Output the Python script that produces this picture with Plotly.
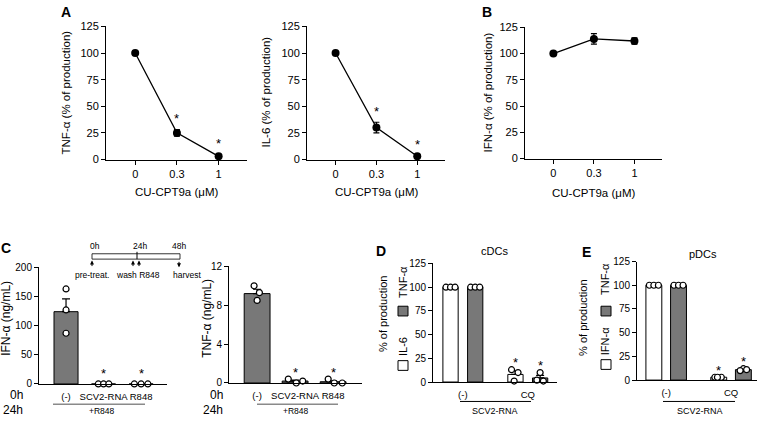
import plotly.graph_objects as go
import numpy as np

W, H = 762, 423

# ---------------- data ----------------
dose_labels = ["0", "0.3", "1"]
tnf_pct = [100, 25, 3]
tnf_pct_err = [0, 3, 1.5]
tnf_pct_sig = [False, True, True]
il6_pct = [100, 30, 3]
il6_pct_err = [0, 5, 1]
il6_pct_sig = [False, True, True]
ifn_pct = [100, 114, 112]
ifn_pct_err = [0, 5, 3]
ifn_pct_sig = [False, False, False]

c_groups = ["(-)", "SCV2-RNA", "R848"]
c_ifn_mean = [124, 0, 0]
c_ifn_sem = [22, 0, 0]
c_ifn_pts = [[163, 127, 87], [0, 0, 0], [0, 0, 0]]
c_ifn_sig = [False, True, True]
c_tnf_mean = [9.2, 0.2, 0.13]
c_tnf_sem = [0.45, 0.1, 0.1]
c_tnf_pts = [[10.0, 9.3, 8.5], [0.4, 0.0, 0.2], [0.4, 0.0, 0.0]]
c_tnf_sig = [False, True, True]

de_groups = ["(-)", "CQ"]
d_il6_mean = [100, 8]
d_il6_sem = [0, 3.8]
d_il6_pts = [[100, 100, 100], [13, 10, 1]]
d_tnf_mean = [100, 4.3]
d_tnf_sem = [0, 2.8]
d_tnf_pts = [[100, 100, 100], [10, 2, 1]]
d_sig = [False, True]
e_ifn_mean = [100, 3]
e_ifn_sem = [0, 0]
e_ifn_pts = [[100, 100, 100], [3, 3, 3]]
e_tnf_mean = [100, 11]
e_tnf_sem = [0, 0.6]
e_tnf_pts = [[100, 100, 100], [12, 10, 11]]
e_sig = [False, True]

# ---------------- style ----------------
FONT = "Arial, Liberation Sans, sans-serif"
GRAY = "#787878"
BLACK = "black"


def px(x):
    return x / W


def py(y):
    return 1 - y / H


fig = go.Figure()

# axis domains in pixels: (x0, x1), (ytop, ybottom)
dom = {
    1: ((106, 247), (21, 158)),
    2: ((307, 445), (21, 158)),
    3: ((525, 662), (22, 157)),
    4: ((39, 167), (269, 389)),
    5: ((229, 362), (268, 388)),
    6: ((433, 557), (265, 387)),
    7: ((637, 757), (263, 385)),
}


def axname(i, a):
    return f"{a}axis" if i == 1 else f"{a}axis{i}"


def ref(i, a):
    return a if i == 1 else f"{a}{i}"


layout_axes = {}


def set_axes(i, xrange, xtickvals, xticktext, yrange, ytickvals, tfs, xticks=True, xfs=11, xlen=4):
    (x0, x1), (yt, yb) = dom[i]
    layout_axes[axname(i, "x")] = dict(
        domain=[px(x0), px(x1)], range=xrange, anchor=ref(i, "y"),
        tickvals=xtickvals, ticktext=xticktext, tickangle=0,
        showline=True, linecolor=BLACK, linewidth=1,
        ticks="outside", ticklen=xlen,
        tickcolor=BLACK if xticks else "rgba(0,0,0,0)", tickwidth=1,
        showgrid=False, zeroline=False, fixedrange=True,
        tickfont=dict(family=FONT, size=xfs, color=BLACK),
    )
    layout_axes[axname(i, "y")] = dict(
        domain=[py(yb), py(yt)], range=yrange, anchor=ref(i, "x"),
        tickvals=ytickvals,
        showline=True, linecolor=BLACK, linewidth=1,
        ticks="outside", ticklen=4, tickcolor=BLACK, tickwidth=1,
        showgrid=False, zeroline=False, fixedrange=True,
        tickfont=dict(family=FONT, size=tfs, color=BLACK),
    )


pct_ticks = [0, 25, 50, 75, 100, 125]
for i in (1, 2, 3):
    set_axes(i, [-0.7, 2.68], [0, 1, 2], dose_labels, [0, 125], pct_ticks, 11)
set_axes(4, [-0.72, 2.69], [0, 1, 2], c_groups, [0, 200], [0, 50, 100, 150, 200], 10,
         xticks=False, xfs=9.5, xlen=4)
set_axes(5, [-0.74, 2.76], [0, 1, 2], c_groups, [0, 12], [0, 4, 8, 12], 10,
         xticks=False, xfs=9.5, xlen=4)
set_axes(6, [-0.46, 1.45], [0, 1], de_groups, [0, 125], pct_ticks, 10, xticks=False,
         xfs=9.5, xlen=4)
set_axes(7, [-0.45, 1.4], [0, 1], de_groups, [0, 125], pct_ticks, 10, xticks=False,
         xfs=9.5, xlen=4)

annotations = []


def star(i, x, y, shift, size=13):
    annotations.append(dict(
        x=x, y=y, xref=ref(i, "x"), yref=ref(i, "y"), text="*", showarrow=False,
        yanchor="middle", yshift=shift, font=dict(family=FONT, size=size, color=BLACK)))


# ---------------- A / B line panels ----------------
for i, (vals, errs, sig) in zip((1, 2, 3), [
        (tnf_pct, tnf_pct_err, tnf_pct_sig),
        (il6_pct, il6_pct_err, il6_pct_sig),
        (ifn_pct, ifn_pct_err, ifn_pct_sig)]):
    xs = list(range(len(vals)))
    fig.add_trace(go.Scatter(
        x=xs, y=vals, mode="lines+markers", xaxis=ref(i, "x"), yaxis=ref(i, "y"),
        line=dict(color=BLACK, width=1.3),
        marker=dict(color=BLACK, size=8, symbol="circle"),
        error_y=dict(type="data", array=errs, color=BLACK, thickness=1.2, width=3),
        cliponaxis=False, showlegend=False, hoverinfo="skip"))
    for k in xs:
        if sig[k]:
            star(i, k, vals[k] + errs[k], 11)


# ---------------- bar panels ----------------
def bar_panel(i, means, sems, pts, jit, color, width, xs):
    fig.add_trace(go.Bar(
        x=xs, y=means, width=width, xaxis=ref(i, "x"), yaxis=ref(i, "y"),
        marker=dict(color=color, line=dict(color=BLACK, width=1)),
        error_y=dict(type="data", symmetric=False, array=sems, arrayminus=[0] * len(sems),
                     color=BLACK, thickness=1.2, width=4),
        showlegend=False, hoverinfo="skip"))
    px_, py_ = [], []
    for k, g in enumerate(pts):
        for j, v in enumerate(g):
            px_.append(xs[k] + jit[k][j])
            py_.append(v)
    fig.add_trace(go.Scatter(
        x=px_, y=py_, mode="markers", xaxis=ref(i, "x"), yaxis=ref(i, "y"),
        marker=dict(color="white", size=6, line=dict(color=BLACK, width=1.2)),
        cliponaxis=False, showlegend=False, hoverinfo="skip"))


c_x = list(range(len(c_groups)))
bar_panel(4, c_ifn_mean, c_ifn_sem, c_ifn_pts,
          [[0, 0, 0], [-0.14, 0, 0.14], [-0.18, 0, 0.18]], GRAY, 0.64, c_x)
bar_panel(5, c_tnf_mean, c_tnf_sem, c_tnf_pts,
          [[-0.08, 0.06, 0.0], [-0.18, 0.03, 0.2], [-0.13, 0.03, 0.24]], GRAY, 0.68, c_x)
for k in c_x:
    if c_ifn_sig[k]:
        star(4, k, max(c_ifn_pts[k]), 10)
    if c_tnf_sig[k]:
        star(5, k, max(c_tnf_pts[k]), 7)

de_x = np.arange(len(de_groups))
shift = 0.19
for i, (m1, s1, p1, m2, s2, p2, sig, bw) in [
        (6, (d_il6_mean, d_il6_sem, d_il6_pts, d_tnf_mean, d_tnf_sem, d_tnf_pts, d_sig, 0.235)),
        (7, (e_ifn_mean, e_ifn_sem, e_ifn_pts, e_tnf_mean, e_tnf_sem, e_tnf_pts, e_sig, 0.245))]:
    jit = [[-0.07, 0, 0.07], [-0.06, 0.04, -0.02]]
    bar_panel(i, m1, s1, p1, jit, "white", bw, list(de_x - shift))
    bar_panel(i, m2, s2, p2, [[-0.07, 0, 0.07], [0.0, -0.05, 0.05]], GRAY, bw, list(de_x + shift))
    for k in range(len(de_groups)):
        if sig[k]:
            star(i, de_x[k] - shift, max(max(p1[k]), m1[k] + s1[k]), 7)
            star(i, de_x[k] + shift, max(max(p2[k]), m2[k] + s2[k]), 7)


# ---------------- text annotations in paper px ----------------
def txt(x, y, s, size=11, angle=0, bold=False, xanchor="center", color=BLACK):
    annotations.append(dict(
        x=px(x), y=py(y), xref="paper", yref="paper", text=f"<b>{s}</b>" if bold else s,
        showarrow=False, textangle=angle, xanchor=xanchor, yanchor="middle",
        font=dict(family=FONT, size=size, color=color)))


# panel letters
txt(66, 6, "A", 14, bold=True)
txt(487, 6, "B", 14, bold=True)
txt(6, 249, "C", 14, bold=True)
txt(381, 252, "D", 14, bold=True)
txt(586, 253, "E", 14, bold=True)

# A/B axis titles
txt(66, 89, "TNF-α (% of production)", 11.5, angle=-90)
txt(266, 89, "IL-6 (% of production)", 11.5, angle=-90)
txt(488, 89, "IFN-α (% of production)", 11.5, angle=-90)
txt(176, 191, "CU-CPT9a (μM)", 11.5)
txt(376, 191, "CU-CPT9a (μM)", 11.5)
txt(593, 192, "CU-CPT9a (μM)", 11.5)

# C titles and labels
txt(6, 322, "IFN-α (ng/mL)", 12, angle=-90)
txt(207, 322, "TNF-α (ng/mL)", 12, angle=-90)
txt(25, 400, "0h", 12, xanchor="right")
txt(25, 416, "24h", 12, xanchor="right")
txt(225, 400, "0h", 12, xanchor="right")
txt(225, 416, "24h", 12, xanchor="right")
txt(102, 417, "+R848", 8.5)
txt(296, 417, "+R848", 8.5)

# timeline inset
txt(95, 247, "0h", 8.5)
txt(140, 247, "24h", 8.5)
txt(179, 247, "48h", 8.5)
txt(92, 277, "pre-treat.", 8.5)
txt(138, 277, "wash R848", 8.5)
txt(187, 277, "harvest", 8.5)

# D / E titles, labels, legends
txt(495, 252, "cDCs", 11)
txt(703, 255, "pDCs", 11)
txt(495, 417, "SCV2-RNA", 9)
txt(700, 417, "SCV2-RNA", 9)
txt(383, 317, "% of production", 11, angle=-90)
txt(403, 284, "TNF-α", 11, angle=-90)
txt(403, 351, "IL-6", 11, angle=-90)
txt(583, 321, "% of production", 11, angle=-90)
txt(605, 281, "TNF-α", 11, angle=-90)
txt(605, 345, "IFN-α", 11, angle=-90)

# arrows of the timeline
for xa, up in [(92, True), (133, True), (139, True), (179, False)]:
    if up:
        annotations.append(dict(x=px(xa), y=py(262), xref="paper", yref="paper", ax=0, ay=7,
                                text="", showarrow=True, arrowhead=2, arrowsize=0.8,
                                arrowwidth=1, arrowcolor=BLACK))
    else:
        annotations.append(dict(x=px(xa), y=py(269), xref="paper", yref="paper", ax=0, ay=-7,
                                text="", showarrow=True, arrowhead=2, arrowsize=0.8,
                                arrowwidth=1, arrowcolor=BLACK))

shapes = []


def pline(x0, y0, x1, y1, color=BLACK, width=1):
    shapes.append(dict(type="line", xref="paper", yref="paper", x0=px(x0), y0=py(y0),
                       x1=px(x1), y1=py(y1), line=dict(color=color, width=width)))


def prect(x0, y0, x1, y1, fill, width=1):
    shapes.append(dict(type="rect", xref="paper", yref="paper", x0=px(x0), y0=py(y0),
                       x1=px(x1), y1=py(y1), fillcolor=fill, line=dict(color=BLACK, width=width)))


prect(92, 255, 180, 260.5, "white", 0.8)
pline(137, 253, 137, 260.5, BLACK, 1)
pline(53, 410, 145, 410, "#8a8a8a", 1.5)
pline(257, 410, 338, 410, "#8a8a8a", 1.5)
pline(460, 407, 531, 407, BLACK, 1)
pline(663, 407, 735, 407, BLACK, 1)
prect(398, 309, 408, 319, GRAY)
prect(398, 365, 408, 375, "white")
prect(601, 309, 611, 319, GRAY)
prect(601, 364, 611, 374, "white")

fig.update_layout(
    width=W, height=H, margin=dict(l=0, r=0, t=0, b=0),
    paper_bgcolor="white", plot_bgcolor="white",
    barmode="overlay", showlegend=False,
    annotations=annotations, shapes=shapes,
    font=dict(family=FONT, color=BLACK),
    **layout_axes,
)

fig.write_html("out.html", config={"displayModeBar": False},
               post_script="document.body.style.margin='0px';document.body.style.overflow='hidden';")
